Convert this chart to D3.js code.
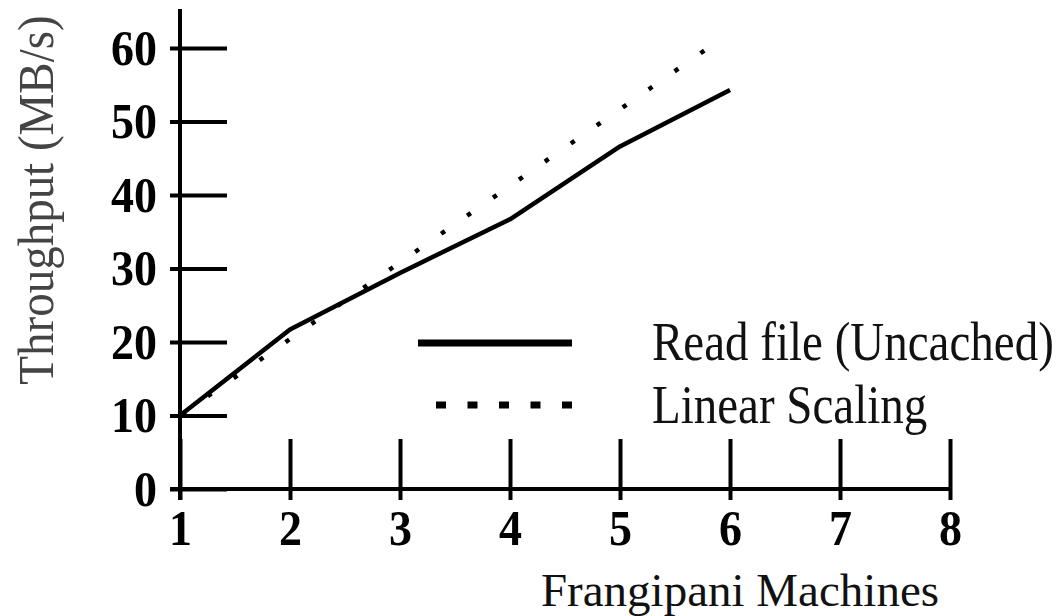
<!DOCTYPE html>
<html>
<head>
<meta charset="utf-8">
<script src="https://cdn.jsdelivr.net/npm/d3@7"></script>
<style>
  body { margin: 0; background: #fff; }
  svg { display: block; font-family: "Liberation Serif", "Times New Roman", serif; }
</style>
</head>
<body>
<svg id="chart" width="1061" height="616"></svg>
<script>
// data
var machines   = [1, 2, 3, 4, 5, 6];
var readFile   = [10, 21.7, 29.4, 36.7, 46.6, 54.3];
var linearX    = [1, 5.82];
var linearY    = [10, 60.2];
var xTicks     = [1, 2, 3, 4, 5, 6, 7, 8];
var yTicks     = [0, 10, 20, 30, 40, 50, 60];
var seriesNames = ["Read file (Uncached)", "Linear Scaling"];

var svg = d3.select("#chart");

var x = d3.scaleLinear().domain([1, 8]).range([180, 950]);
var y = d3.scaleLinear().domain([0, 60]).range([489, 48]);

// y axis
var gy = svg.append("g")
    .attr("transform", "translate(" + x(1) + ",0)")
    .call(d3.axisLeft(y).tickValues(yTicks).tickFormat(d3.format("d")).tickSize(0).tickPadding(23));
gy.select(".domain").remove();
gy.selectAll(".tick line")
    .attr("x1", -10).attr("x2", 47)
    .attr("stroke", "#000").attr("stroke-width", 4);
gy.selectAll(".tick text")
    .attr("font-family", "Liberation Serif, serif")
    .attr("font-size", 46)
    .attr("font-weight", "bold")
    .attr("fill", "#000")
    .attr("transform", "scale(1,1.1)");

// x axis
var gx = svg.append("g")
    .attr("transform", "translate(0," + y(0) + ")")
    .call(d3.axisBottom(x).tickValues(xTicks).tickFormat(d3.format("d")).tickSize(0).tickPadding(18));
gx.select(".domain").remove();
gx.selectAll(".tick line")
    .attr("y1", -50).attr("y2", 11)
    .attr("stroke", "#000").attr("stroke-width", 4);
gx.selectAll(".tick text")
    .attr("font-family", "Liberation Serif, serif")
    .attr("font-size", 46)
    .attr("font-weight", "bold")
    .attr("fill", "#000")
    .attr("transform", "scale(1,1.1)");

// axis lines
svg.append("line")
    .attr("x1", x(1)).attr("x2", x(1))
    .attr("y1", y(65.3)).attr("y2", y(-1.5))
    .attr("stroke", "#000").attr("stroke-width", 4);
svg.append("line")
    .attr("x1", x(0.91)).attr("x2", x(8))
    .attr("y1", y(0)).attr("y2", y(0))
    .attr("stroke", "#000").attr("stroke-width", 4);

// lines
var line = d3.line()
    .x(function(d) { return x(d[0]); })
    .y(function(d) { return y(d[1]); });

svg.append("path")
    .datum(linearX.map(function(v, i) { return [v, linearY[i]]; }))
    .attr("d", line)
    .attr("fill", "none")
    .attr("stroke", "#000")
    .attr("stroke-width", 4.5)
    .attr("stroke-dasharray", "4.5 27.1")
    .attr("stroke-dashoffset", -2.2);

svg.append("path")
    .datum(machines.map(function(v, i) { return [v, readFile[i]]; }))
    .attr("d", line)
    .attr("fill", "none")
    .attr("stroke", "#000")
    .attr("stroke-width", 4.5)
    .attr("stroke-linejoin", "round");

// legend
var legend = svg.append("g");
legend.append("line")
    .attr("x1", 418).attr("x2", 572).attr("y1", 343).attr("y2", 343)
    .attr("stroke", "#000").attr("stroke-width", 7);
legend.append("line")
    .attr("x1", 436).attr("x2", 572).attr("y1", 405).attr("y2", 405)
    .attr("stroke", "#000").attr("stroke-width", 7)
    .attr("stroke-dasharray", "10 21.5");
legend.selectAll("text")
    .data(seriesNames)
    .enter().append("text")
    .attr("transform", function(d, i) { return "translate(652," + (360 + i * 63) + ") scale(1,1.18)"; })
    .attr("font-size", 47)
    .attr("fill", "#111")
    .text(function(d) { return d; });

// axis titles
svg.append("text")
    .attr("x", 740).attr("y", 606)
    .attr("text-anchor", "middle")
    .attr("font-size", 47)
    .attr("fill", "#111")
    .text("Frangipani Machines");

svg.append("text")
    .attr("transform", "translate(53,200) rotate(-90) scale(1,1.1)")
    .attr("text-anchor", "middle")
    .attr("font-size", 47)
    .attr("fill", "#444")
    .text("Throughput (MB/s)");
</script>
</body>
</html>
